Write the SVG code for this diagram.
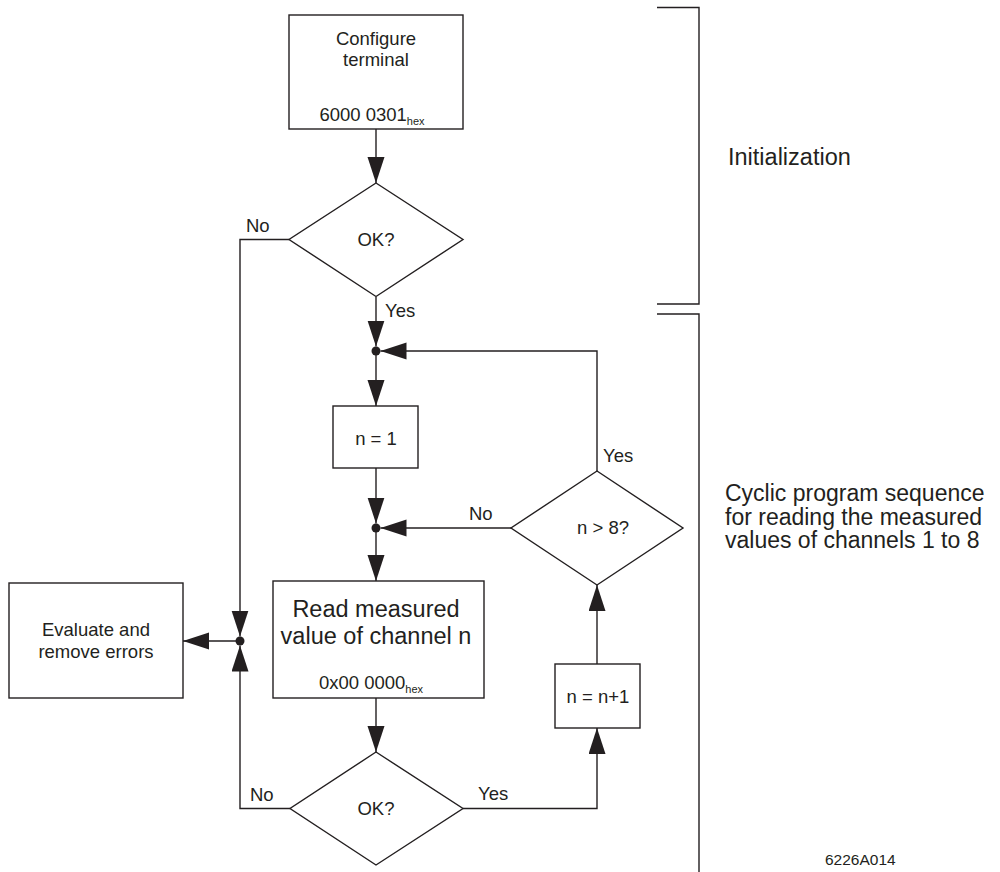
<svg xmlns="http://www.w3.org/2000/svg" width="1000" height="872" viewBox="0 0 1000 872">
<style>
.s{fill:#fff;stroke:#231f20;stroke-width:1.4}
.c{fill:none;stroke:#231f20;stroke-width:1.4}
.a{marker-end:url(#ah)}
text{font-family:"Liberation Sans",Arial,sans-serif;fill:#231f20}
.t{font-size:18.5px;text-anchor:middle}
.l{font-size:18.5px}
.big{font-size:23.5px}
.cy{font-size:23px}
.sub{font-size:11px;fill:#231f20}
</style>
<defs>
<marker id="ah" markerUnits="userSpaceOnUse" markerWidth="27" markerHeight="18" refX="26" refY="8.5" orient="auto">
<path d="M0,0 L26,8.5 L0,17 Z" fill="#231f20"/>
</marker>
</defs>
<g id="connectors">
<path class="c a" d="M376,129 V183"/>
<path class="c a" d="M376,297 V346.5"/>
<path class="c a" d="M376,351 V406"/>
<path class="c a" d="M376,468 V523.5"/>
<path class="c a" d="M376,528 V581"/>
<path class="c a" d="M376,698 V752"/>
<path class="c a" d="M463,808.5 H597 V728"/>
<path class="c a" d="M597,664 V585"/>
<path class="c a" d="M597,471 V351 H380.5"/>
<path class="c a" d="M511,528 H380.5"/>
<path class="c a" d="M289,239.5 H240 V636.5"/>
<path class="c a" d="M290,808.5 H240 V645.5"/>
<path class="c a" d="M240,641 H183"/>
<circle cx="376" cy="351" r="4.5" fill="#231f20"/>
<circle cx="376" cy="528" r="4.5" fill="#231f20"/>
<circle cx="240" cy="641" r="4.5" fill="#231f20"/>
<text class="l" x="246" y="232">No</text>
<text class="l" x="385" y="317">Yes</text>
<text class="l" x="603" y="462">Yes</text>
<text class="l" x="469" y="520">No</text>
<text class="l" x="250" y="801">No</text>
<text class="l" x="478" y="800">Yes</text>
</g>
<g id="configure">
<rect class="s" x="289" y="15" width="174" height="114"/>
<text class="t" x="376" y="45">Configure</text>
<text class="t" x="376" y="66">terminal</text>
<text class="t" x="372" y="121">6000 0301<tspan class="sub" dy="4">hex</tspan></text>
</g>
<g id="ok1">
<polygon class="s" points="376,183 463,239.5 376,296.5 289,239.5"/>
<text class="t" x="376" y="246">OK?</text>
</g>
<g id="n1">
<rect class="s" x="333" y="406" width="85" height="62"/>
<text class="t" x="376" y="445">n = 1</text>
</g>
<g id="ngt8">
<polygon class="s" points="597,471 683,528 597,585 511,528"/>
<text class="t" x="603" y="534">n &gt; 8?</text>
</g>
<g id="read">
<rect class="s" x="273" y="581" width="211" height="117"/>
<text class="t big" x="376" y="617">Read measured</text>
<text class="t big" x="376" y="644">value of channel n</text>
<text class="t" x="371" y="689">0x00 0000<tspan class="sub" dy="4">hex</tspan></text>
</g>
<g id="evaluate">
<rect class="s" x="9" y="583" width="174" height="115"/>
<text class="t" x="96" y="636">Evaluate and</text>
<text class="t" x="96" y="658">remove errors</text>
</g>
<g id="ok2">
<polygon class="s" points="376,752 463,808.5 376,865 290,808.5"/>
<text class="t" x="376" y="815">OK?</text>
</g>
<g id="nplus">
<rect class="s" x="555" y="664" width="85" height="64"/>
<text class="t" x="598" y="703">n = n+1</text>
</g>
<g id="brackets">
<path class="c" d="M657,7.5 H699 V304 H657"/>
<path class="c" d="M657,314 H699 V872"/>
<text class="big" x="728" y="165">Initialization</text>
<text class="cy" x="725" y="501">Cyclic program sequence</text>
<text class="cy" x="725" y="524.5">for reading the measured</text>
<text class="cy" x="725" y="548">values of channels 1 to 8</text>
<text x="825" y="865" style="font-size:15.5px">6226A014</text>
</g>
</svg>
